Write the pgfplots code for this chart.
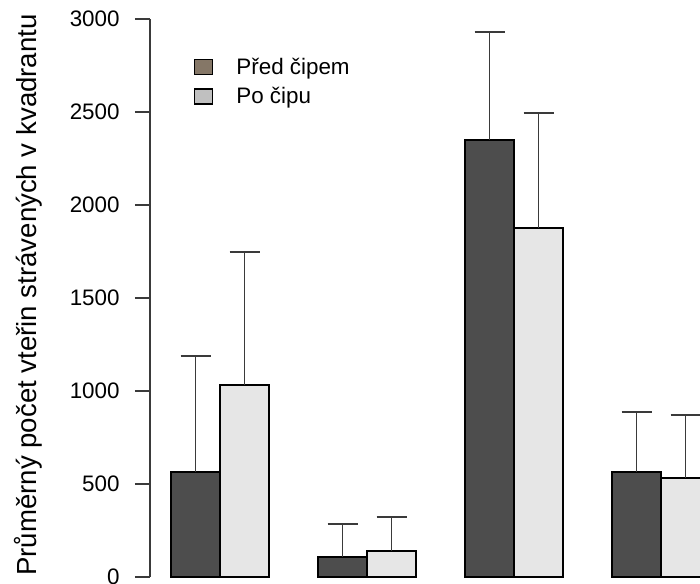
\documentclass[border=0pt]{standalone}
\usepackage{fontspec}
\setmainfont{Liberation Sans}
\usepackage{pgfplots}
\pgfplotsset{compat=1.18}
\definecolor{darkbar}{HTML}{4D4D4D}
\definecolor{lightbar}{HTML}{E6E6E6}
\definecolor{legA}{HTML}{857767}
\definecolor{legB}{HTML}{C0C0C0}
\definecolor{axgray}{HTML}{3A3A3A}
\begin{document}
\begin{tikzpicture}
\begin{axis}[
  scale only axis, width=275pt, height=291.5pt,
  xmin=0.571, xmax=11.796, ymin=-32, ymax=3102,
  clip mode=individual,
  hide x axis,
  axis y line*=left,
  y axis line style={draw=none},
  ytick={0,500,1000,1500,2000,2500,3000},
  tick align=outside, major tick length=7.5pt,
  ytick style={axgray, line width=0.9pt},
  /pgf/number format/assume math mode=true,
  /pgf/number format/1000 sep={},
  yticklabel style={font=\fontsize{11.2}{13}\selectfont, anchor=east, inner sep=0pt, xshift=-7.5pt},
  legend image code/.code={\draw[#1, draw=black, line width=0.7pt] (0pt,0pt) rectangle (9pt,7.5pt);},
  legend style={at={(rel axis cs:0.08,0.9)}, anchor=north west, draw=none, fill=none,
     inner sep=0pt, outer sep=0pt, row sep=5pt, column sep=11.5pt,
     font=\fontsize{11.2}{13}\selectfont,
     nodes={inner sep=0pt, anchor=base west}},
  legend cell align=left,
]
\addlegendimage{fill=legA}
\addlegendentry{Před čipem}
\addlegendimage{fill=legB}
\addlegendentry{Po čipu}

\addplot[forget plot, ybar, bar width=1, bar shift=0pt, fill=darkbar, draw=black, line width=0.9pt,
  error bars/.cd, y dir=plus, y explicit,
  error bar style={axgray, line width=0.9pt},
  error mark options={rotate=90, axgray, mark size=7.5pt, line width=0.9pt}]
  coordinates {(1.5,565) +- (0,623) (4.5,108) +- (0,177) (7.5,2349) +- (0,581) (10.5,565) +- (0,322)};

\addplot[forget plot, ybar, bar width=1, bar shift=0pt, fill=lightbar, draw=black, line width=0.9pt,
  error bars/.cd, y dir=plus, y explicit,
  error bar style={axgray, line width=0.9pt},
  error mark options={rotate=90, axgray, mark size=7.5pt, line width=0.9pt}]
  coordinates {(2.5,1032) +- (0,715) (5.5,140) +- (0,183) (8.5,1876) +- (0,619) (11.5,532) +- (0,339)};

\draw[axgray, line width=0.9pt] (axis cs:0.571,0) -- (axis cs:0.571,3000);
\node[rotate=90, anchor=base, font=\fontsize{13.8}{16}\selectfont] at ([xshift=-56.5pt]rel axis cs:0,0.494) {Průměrný počet vteřin strávených v kvadrantu};
\coordinate (bl) at (rel axis cs:0,0);
\coordinate (tr) at (rel axis cs:1,1);
\end{axis}
\pgfresetboundingbox
\path ([xshift=-75pt]bl) rectangle (tr);
\end{tikzpicture}
\end{document}
